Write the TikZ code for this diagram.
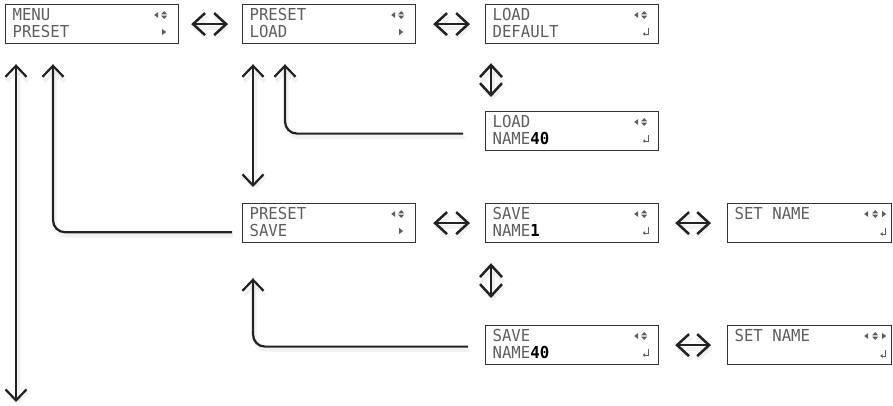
\documentclass[tikz,border=0pt]{standalone}
\usepackage{fontspec}
\newfontfamily\lcdfont[FakeStretch=0.95]{DejaVu Sans Mono}
\usetikzlibrary{arrows.meta,calc}
\definecolor{lcdgray}{HTML}{5E5E5E}
\definecolor{ink}{HTML}{222222}
\definecolor{frame}{HTML}{333333}
\newcommand\lcdlines[3][159pt]{\vbox to 39pt{\offinterlineskip\kern16pt\hbox to #1{\smash{#2}\hfil}\kern17pt\hbox to #1{\smash{#3}\hfil}\vss}}
\newcommand\lcdnum[1]{{\color{black}\bfseries #1}}
\tikzset{
  lcdbox/.style={draw=frame, line width=1.2pt, fill=white, anchor=north west,
    inner sep=0pt, inner xsep=7pt, minimum width=173pt, minimum height=39pt,
    font=\lcdfont\fontsize{16.5}{17}\selectfont, text=lcdgray},
  shad/.style={
    preaction={draw=black, opacity=0.05, line width=4pt, transform canvas={shift={(1.5pt,-3.5pt)}}}},
  conn/.style={shad, draw=ink, line width=2.2pt, rounded corners=12pt,
    -{Straight Barb[length=11pt,width=21pt]}},
  conn2/.style={conn, {Straight Barb[length=11pt,width=21pt]}-{Straight Barb[length=11pt,width=21pt]}},
  bigarr/.style={shad, draw=ink, line width=2.5pt,
    {Straight Barb[length=12pt,width=22pt]}-{Straight Barb[length=12pt,width=22pt]}},
  pics/lrsym/.style={code={
    \fill[lcdgray] (-25,11) -- (-21,8) -- (-21,14) -- cycle;
    \fill[lcdgray] (-18,10.3) -- (-12,10.3) -- (-15,7) -- cycle;
    \fill[lcdgray] (-18,11.7) -- (-12,11.7) -- (-15,15) -- cycle;}},
  pics/rsym/.style={code={
    \fill[lcdgray] (-17,25) -- (-13,28) -- (-17,31) -- cycle;}},
  pics/retsym/.style={code={
    \draw[lcdgray, line width=0.9pt] (-11,24) -- (-11,30) -- (-14.5,30);
    \fill[lcdgray] (-16.5,30) -- (-14,28) -- (-14,32) -- cycle;}},
  pics/setsym/.style={code={
    \fill[lcdgray] (-28,11) -- (-24,8) -- (-24,14) -- cycle;
    \fill[lcdgray] (-20,10.3) -- (-14,10.3) -- (-17,7) -- cycle;
    \fill[lcdgray] (-20,11.7) -- (-14,11.7) -- (-17,15) -- cycle;
    \fill[lcdgray] (-10,8) -- (-6,11) -- (-10,14) -- cycle;
    \draw[lcdgray, line width=0.9pt] (-6.5,25) -- (-6.5,31) -- (-10,31);
    \fill[lcdgray] (-12,31) -- (-9.5,29) -- (-9.5,33) -- cycle;}}
}
\begin{document}
\begin{tikzpicture}[x=1pt,y=-1pt]
\useasboundingbox (0,0) rectangle (893,405);
% boxes
\node[lcdbox] (m1) at (5,4) {\lcdlines{MENU}{PRESET}};
\node[lcdbox] (p1) at (242,4) {\lcdlines{PRESET}{LOAD}};
\node[lcdbox] (l1) at (485,4) {\lcdlines{LOAD}{DEFAULT}};
\node[lcdbox] (l2) at (485,111) {\lcdlines{LOAD}{NAME\lcdnum{40}}};
\node[lcdbox] (p2) at (242,203) {\lcdlines{PRESET}{SAVE}};
\node[lcdbox] (s1) at (485,203) {\lcdlines{SAVE}{NAME\lcdnum{1}}};
\node[lcdbox, minimum width=164pt] (n1) at (727,203) {\lcdlines[150pt]{SET NAME}{}};
\node[lcdbox] (s2) at (485,325) {\lcdlines{SAVE}{NAME\lcdnum{40}}};
\node[lcdbox, minimum width=164pt] (n2) at (727,325) {\lcdlines[150pt]{SET NAME}{}};
% symbols
\foreach \b in {m1,p1,p2}{
  \pic at (\b.north east) {lrsym};
  \pic at (\b.north east) {rsym};
}
\foreach \b in {l1,l2,s1,s2}{
  \pic at (\b.north east) {lrsym};
  \pic at (\b.north east) {retsym};
}
\foreach \b in {n1,n2}{
  \pic at (\b.north east) {setsym};
}
% horizontal and vertical double arrows
\draw[bigarr, shorten <=12pt, shorten >=14pt] (m1.east) -- (p1.west);
\draw[bigarr, shorten <=17pt, shorten >=15pt] (p1.east) -- (l1.west);
\draw[bigarr, shorten <=17pt, shorten >=15pt] (p2.east) -- (s1.west);
\draw[bigarr, shorten <=16pt, shorten >=16pt] (s1.east) -- (n1.west);
\draw[bigarr, shorten <=16pt, shorten >=16pt] (s2.east) -- (n2.west);
\draw[bigarr, shorten <=19pt, shorten >=14pt] ($(l1.south west)+(6,0)$) -- ($(l2.north west)+(6,0)$);
\draw[bigarr, shorten <=20pt, shorten >=27pt] ($(s1.south west)+(6,0)$) -- ($(s2.north west)+(6,0)$);
% connector ends
\coordinate (a1) at ($(m1.south west)+(11,20)$);
\coordinate (a2) at (16,402);
\coordinate (t1) at ($(m1.south west)+(48,20)$);
\coordinate (c1) at ($(p2.south west)+(-10,-11)$);
\coordinate (b1) at ($(p1.south west)+(11,20)$);
\coordinate (b2) at ($(p2.north west)+(11,-16)$);
\coordinate (t3) at ($(p1.south west)+(43,20)$);
\coordinate (c3) at ($(l2.west)+(-22,2.5)$);
\coordinate (t4) at ($(p2.south west)+(11,35)$);
\coordinate (c4) at ($(s2.west)+(-17,1.5)$);
% connectors
\draw[conn2] (a1) -- (a2);
\draw[conn] (c1) -| (t1);
\draw[conn2] (b1) -- (b2);
\draw[conn] (c3) -| (t3);
\draw[conn] (c4) -| (t4);
\end{tikzpicture}
\end{document}
